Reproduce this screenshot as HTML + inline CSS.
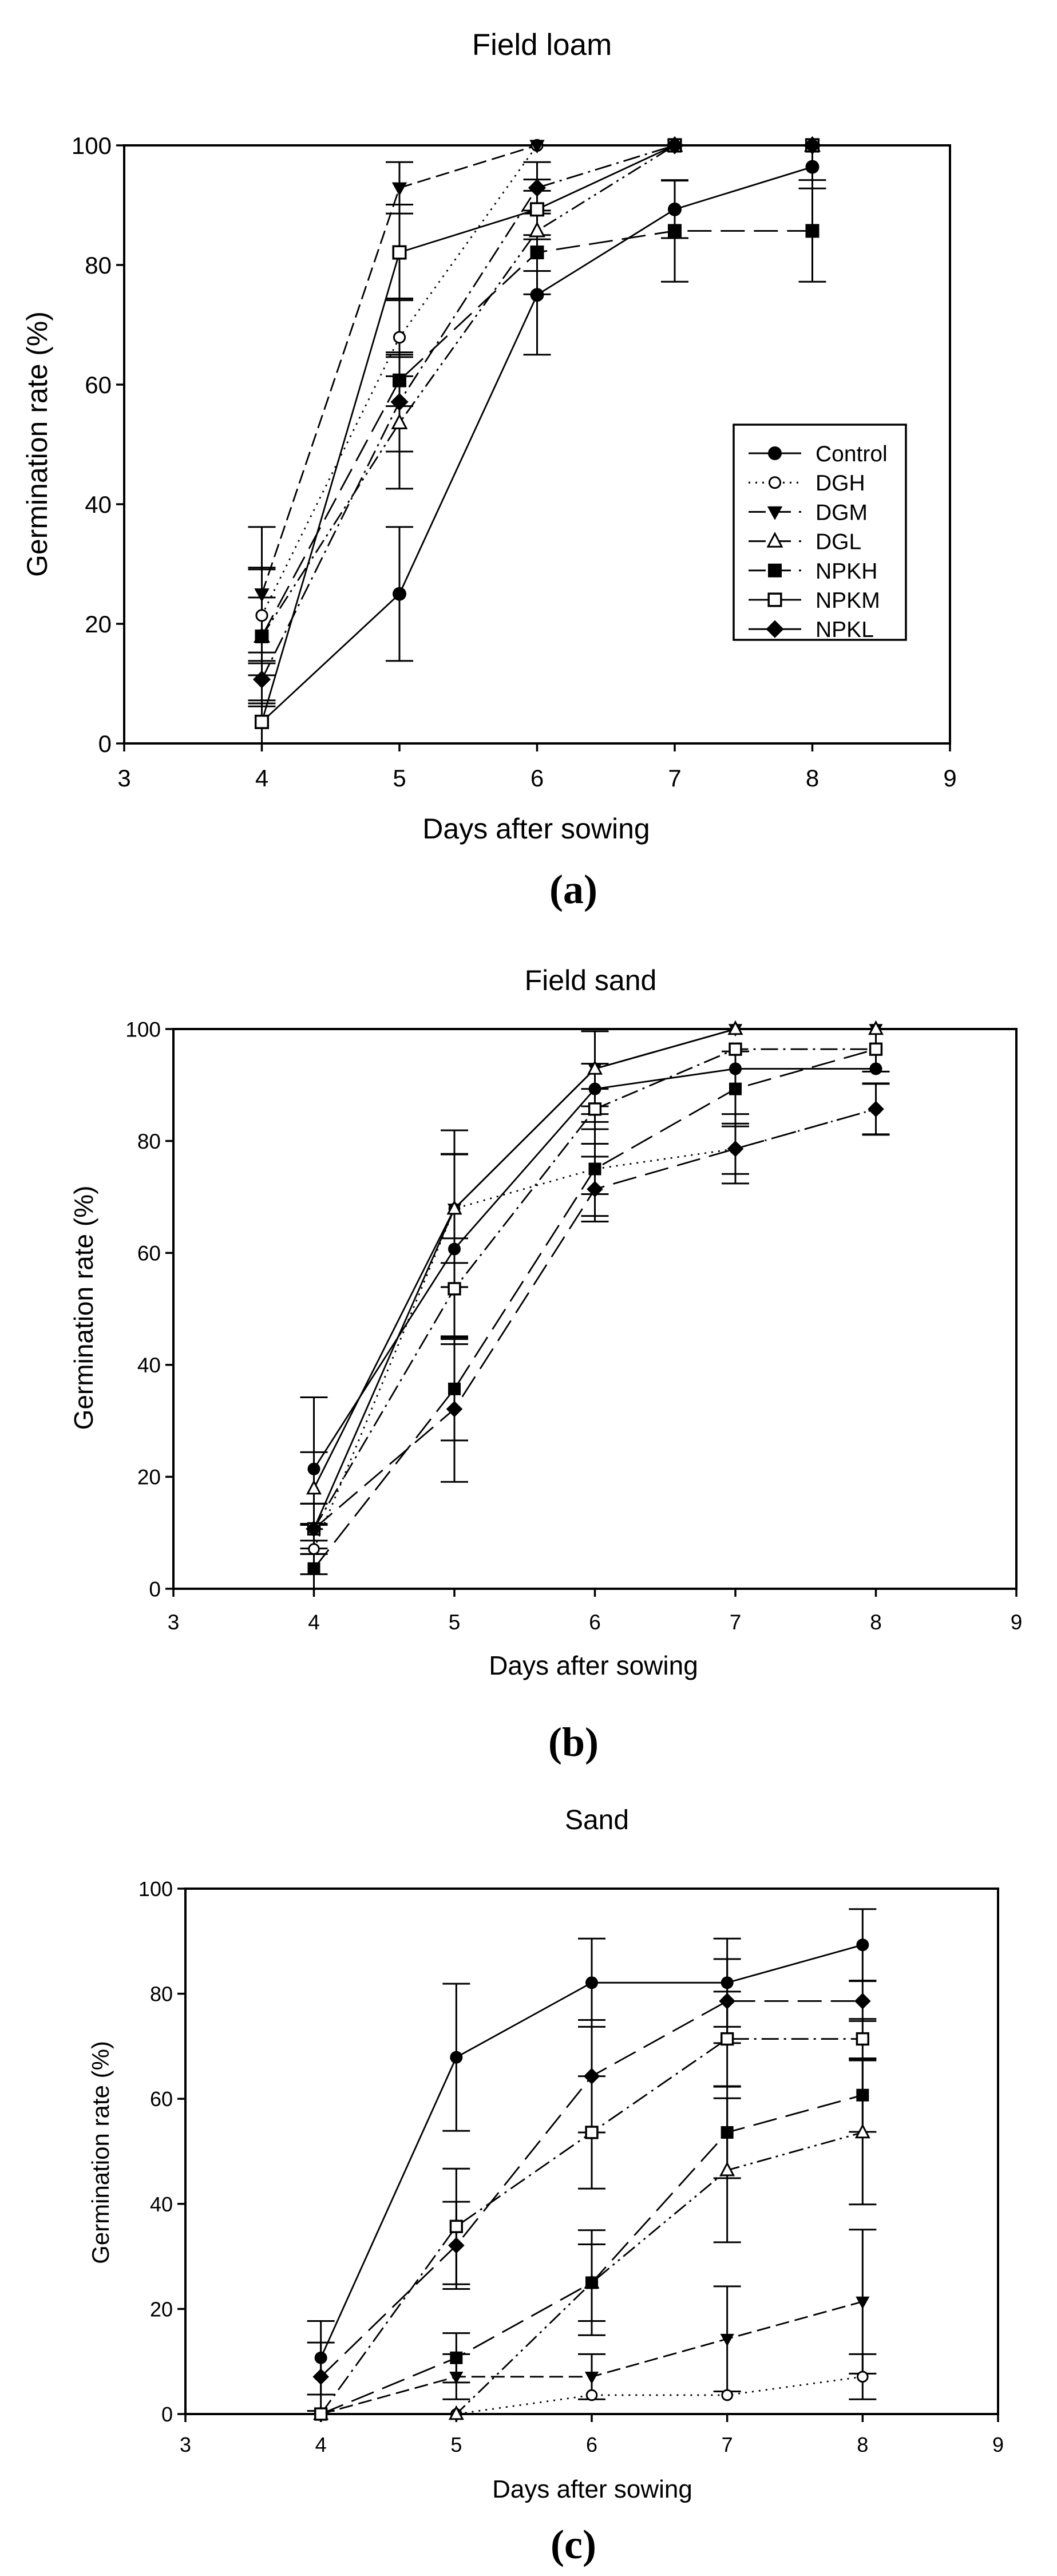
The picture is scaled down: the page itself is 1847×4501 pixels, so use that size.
<!DOCTYPE html>
<html><head><meta charset="utf-8"><style>
html,body{margin:0;padding:0;background:#fff;}
svg{display:block;}
text{font-family:"Liberation Sans",Arial,sans-serif;fill:#000;}
.lab{font-family:"Liberation Serif",serif;font-weight:bold;}
</style></head><body>
<svg id="s" xmlns="http://www.w3.org/2000/svg" width="1847" height="4501" viewBox="0 0 1847 4501">
<rect width="1847" height="4501" fill="#fff"/>
<text x="947" y="96" font-size="53" text-anchor="middle">Field loam</text>
<text x="937" y="1465" font-size="50" text-anchor="middle">Days after sowing</text>
<text transform="translate(82,776) rotate(-90)" font-size="50" text-anchor="middle">Germination rate (%)</text>
<text class="lab" x="1002" y="1578" font-size="72" text-anchor="middle">(a)</text>

<text x="1032" y="1730" font-size="50" text-anchor="middle">Field sand</text>
<text x="1037" y="2926" font-size="46" text-anchor="middle">Days after sowing</text>
<text transform="translate(162,2285) rotate(-90)" font-size="46" text-anchor="middle">Germination rate (%)</text>
<text class="lab" x="1002" y="3068" font-size="72" text-anchor="middle">(b)</text>

<text x="1043" y="3196" font-size="48" text-anchor="middle">Sand</text>
<text x="1035" y="4364" font-size="44" text-anchor="middle">Days after sowing</text>
<text transform="translate(190,3761) rotate(-90)" font-size="42" text-anchor="middle">Germination rate (%)</text>
<text class="lab" x="1002" y="4470" font-size="72" text-anchor="middle">(c)</text>
<g id="g"></g>
</svg>
<script>
var NS="http://www.w3.org/2000/svg",G=document.getElementById('g');
function el(t,a,txt){var e=document.createElementNS(NS,t);for(var k in a)e.setAttribute(k,a[k]);if(txt!=null)e.textContent=txt;G.appendChild(e);return e;}
var DASH={solid:"",dot:"3,9",dash:"24,10",dd:"26,8,4,8,4,8",long:"42,16",dashdot:"30,9,4,9"};
function marker(m,x,y,s){
 var r=s;
 if(m=="circ")el('circle',{cx:x,cy:y,r:r,fill:'#000'});
 else if(m=="ocirc")el('circle',{cx:x,cy:y,r:r*0.8,fill:'#fff',stroke:'#000','stroke-width':3});
 else if(m=="dtri")el('polygon',{points:(x-r*1.1)+','+(y-r*0.8)+' '+(x+r*1.1)+','+(y-r*0.8)+' '+x+','+(y+r*1.2),fill:'#000'});
 else if(m=="otri")el('polygon',{points:(x-r)+','+(y+r*0.8)+' '+(x+r)+','+(y+r*0.8)+' '+x+','+(y-r*1.1),fill:'#fff',stroke:'#000','stroke-width':3});
 else if(m=="sq")el('rect',{x:x-r,y:y-r,width:2*r,height:2*r,fill:'#000'});
 else if(m=="osq")el('rect',{x:x-r*0.9,y:y-r*0.9,width:1.8*r,height:1.8*r,fill:'#fff',stroke:'#000','stroke-width':3.5});
 else if(m=="dia")el('polygon',{points:x+','+(y-r*1.3)+' '+(x+r*1.3)+','+y+' '+x+','+(y+r*1.3)+' '+(x-r*1.3)+','+y,fill:'#000'});
}
function panel(P){
 var X=function(d){return P.l+(d-3)*(P.r-P.l)/6;},Y=function(v){return P.b-v*(P.b-P.t)/100;};
 el('rect',{x:P.l,y:P.t,width:P.r-P.l,height:P.b-P.t,fill:'none',stroke:'#000','stroke-width':4});
 for(var v=0;v<=100;v+=20){el('line',{x1:P.l-14,y1:Y(v),x2:P.l,y2:Y(v),stroke:'#000','stroke-width':3.5});
  el('text',{x:P.l-22,y:Y(v)+P.fs*0.36,'font-size':P.fs,'text-anchor':'end'},v);}
 for(var d=3;d<=9;d++){el('line',{x1:X(d),y1:P.b,x2:X(d),y2:P.b+14,stroke:'#000','stroke-width':3.5});
  el('text',{x:X(d),y:P.ty,'font-size':P.fs,'text-anchor':'middle'},d);}
 P.S.forEach(function(s){
  var pts=s.v.map(function(v,i){return X(4+i)+','+Y(v);}).join(' ');
  var a={points:pts,fill:'none',stroke:'#000','stroke-width':2.8};if(DASH[s.ls])a['stroke-dasharray']=DASH[s.ls];
  el('polyline',a);
 });
 P.S.forEach(function(s){
  s.v.forEach(function(v,i){var e=s.e[i];if(!e)return;var x=X(4+i);
   var y1=Y(Math.min(100,v+e)),y2=Y(Math.max(0,v-e));
   el('line',{x1:x,y1:y1,x2:x,y2:y2,stroke:'#000','stroke-width':3});
   el('line',{x1:x-24,y1:y1,x2:x+24,y2:y1,stroke:'#000','stroke-width':3});
   el('line',{x1:x-24,y1:y2,x2:x+24,y2:y2,stroke:'#000','stroke-width':3});});
 });
 P.S.forEach(function(s){s.v.forEach(function(v,i){marker(s.m,X(4+i),Y(v),P.ms);});});
}
panel({l:217,r:1660,t:254,b:1299,ty:1374,fs:42,ms:12,S:[
 {m:'circ',ls:'solid',v:[3.6,25,75,89.3,96.4],e:[0,11.2,10,4.8,3.6]},
 {m:'ocirc',ls:'dot',v:[21.4,67.9,100,100,100],e:[8,6.5,0,0,0]},
 {m:'dtri',ls:'dash',v:[25,92.9,100,100,100],e:[11.2,4.3,0,0,0]},
 {m:'otri',ls:'dd',v:[17.9,53.6,85.7,100,100],e:[6.5,11,6.7,0,0]},
 {m:'sq',ls:'long',v:[17.9,60.7,82.1,85.7,85.7],e:[11.2,4.3,7,8.5,8.5]},
 {m:'osq',ls:'solid',v:[3.6,82.1,89.3,100,100],e:[3.6,8,5,0,0]},
 {m:'dia',ls:'dashdot',v:[10.7,57.1,92.9,100,100],e:[4.5,8.3,4.3,0,0]}]});
// legend
el('rect',{x:1282,y:742,width:301,height:376,fill:'#fff',stroke:'#000','stroke-width':3.5});
var L=[['Control','circ','solid'],['DGH','ocirc','dot'],['DGM','dtri','dash'],['DGL','otri','dd'],['NPKH','sq','long'],['NPKM','osq','solid'],['NPKL','dia','solid']];
L.forEach(function(l,i){var y=792+i*51.2;var a={x1:1308,y1:y,x2:1400,y2:y,stroke:'#000','stroke-width':3};
 if(l[2]=='dot')a['stroke-dasharray']='3,9';else if(l[2]!='solid')a['stroke-dasharray']='30,14';
 el('line',a);marker(l[1],1354,y,12);el('text',{x:1425,y:y+14,'font-size':39},l[0]);});
panel({l:303,r:1776,t:1798,b:2776,ty:2847,fs:37,ms:11,S:[
 {m:'circ',ls:'solid',v:[21.4,60.7,89.3,92.9,92.9],e:[12.8,17,4.5,0,0]},
 {m:'ocirc',ls:'dot',v:[7.1,67.9,75,78.6,85.7],e:[4.5,14,4.5,4.5,4.5]},
 {m:'dtri',ls:'solid',v:[10.7,67.9,92.9,100,100],e:[4.5,14,6.7,0,0]},
 {m:'otri',ls:'solid',v:[17.9,67.9,92.9,100,100],e:[6.5,9.7,6.7,0,0]},
 {m:'sq',ls:'long',v:[3.6,35.7,75,89.3,96.4],e:[3.6,9.2,8.4,6.7,4]},
 {m:'osq',ls:'dashdot',v:[10.7,53.6,85.7,96.4,96.4],e:[4.5,9,3.6,0,0]},
 {m:'dia',ls:'long',v:[10.7,32.1,71.4,78.6,85.7],e:[4.5,13,5.8,6.2,4.6]}]});
panel({l:324,r:1744,t:3300,b:4218,ty:4284,fs:36,ms:11,S:[
 {m:'circ',ls:'solid',v:[10.7,67.9,82.1,82.1,89.3],e:[7,14,8.4,8.4,6.8]},
 {m:'ocirc',ls:'dot',v:[0,0,3.6,3.6,7.1],e:[0,0,0,0,4.3]},
 {m:'dtri',ls:'dash',v:[0,7.1,7.1,14.3,21.4],e:[0,4.3,4.3,10,13.7]},
 {m:'otri',ls:'dd',v:[0,0,25,46.4,53.6],e:[0,0,10,13.7,13.7]},
 {m:'sq',ls:'long',v:[0,10.7,25,53.6,60.7],e:[0,4.7,7.3,8.7,7]},
 {m:'osq',ls:'dashdot',v:[0,35.7,53.6,71.4,71.4],e:[0,11,10.7,9,3.8]},
 {m:'dia',ls:'long',v:[7.1,32.1,64.3,78.6,78.6],e:[6.5,8.3,10.7,8,3.8]}]});
</script>
</body></html>
